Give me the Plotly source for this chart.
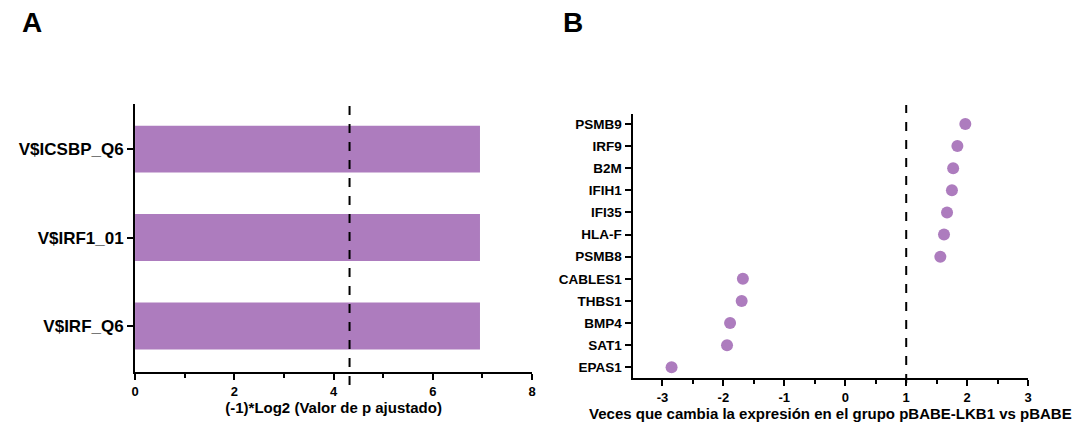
import plotly.graph_objects as go
import math

# Panel A data
motifs = ["V$IRF_Q6", "V$IRF1_01", "V$ICSBP_Q6"]
motif_scores = [6.95, 6.95, 6.95]
p_threshold = -math.log2(0.05)

# Panel B data
genes = ["EPAS1", "SAT1", "BMP4", "THBS1", "CABLES1", "PSMB8", "HLA-F",
         "IFI35", "IFIH1", "B2M", "IRF9", "PSMB9"]
fold_change = [-2.85, -1.94, -1.89, -1.70, -1.68, 1.56, 1.62,
               1.67, 1.75, 1.77, 1.84, 1.97]
fc_threshold = 1

xA_ticks = [0, 2, 4, 6, 8]
xB_ticks = [-3, -2, -1, 0, 1, 2, 3]
xB_ticktext = ["-3", "-2", "-1", "0", "1", "2", "3"]

purple = "#ad7cbe"
FONT = "Liberation Sans, Arial, sans-serif"

fig = go.Figure()
fig.add_trace(go.Bar(x=motif_scores, y=motifs, orientation="h",
                     marker=dict(color=purple, line=dict(width=0)),
                     xaxis="x", yaxis="y", showlegend=False))
fig.add_trace(go.Scatter(x=fold_change, y=genes, mode="markers",
                         marker=dict(color=purple, size=12, line=dict(width=0)),
                         xaxis="x2", yaxis="y2", showlegend=False))

axis_common = dict(showline=True, linecolor="black", linewidth=2,
                   ticks="outside", ticklen=6, tickwidth=2, tickcolor="black",
                   showgrid=False, zeroline=False)

fig.update_layout(
    width=1077, height=429,
    margin=dict(l=0, r=0, t=0, b=0),
    paper_bgcolor="white", plot_bgcolor="white",
    font=dict(family=FONT, color="black"),
    bargap=0.47,
    xaxis=dict(domain=[0.1226, 0.4940], range=[0, 8], tickvals=xA_ticks,
               anchor="y",
               minor=dict(ticks="outside", ticklen=4, tickwidth=2, dtick=1, tickcolor="black"),
               tickfont=dict(size=13, weight="bold"),
               title=dict(text="(-1)*Log2 (Valor de p ajustado)", standoff=4,
                          font=dict(size=15, weight="bold")),
               **axis_common),
    yaxis=dict(domain=[0.1329, 0.7576], range=[-0.52, 2.51], anchor="x",
               type="category", categoryorder="array", categoryarray=motifs,
               tickfont=dict(size=17, weight="bold"),
               **axis_common),
    xaxis2=dict(domain=[0.588, 0.958], range=[-3.49, 3.0], tickvals=xB_ticks,
                ticktext=xB_ticktext, anchor="y2",
                minor=dict(ticks="outside", ticklen=4, tickwidth=2, dtick=0.5, tick0=0,
                           tickcolor="black"),
                tickfont=dict(size=13, weight="bold"),
                title=dict(text="Veces que cambia la expresión en el grupo pBABE-LKB1 vs pBABE",
                           standoff=2, font=dict(size=15, weight="bold")),
                **axis_common),
    yaxis2=dict(domain=[0.118, 0.7343], range=[-0.5, 11.45], anchor="x2",
                type="category", categoryorder="array", categoryarray=genes,
                tickfont=dict(size=13.5, weight="bold"),
                **axis_common),
    shapes=[
        dict(type="line", xref="x", yref="paper", x0=p_threshold, x1=p_threshold,
             y0=0.1026, y1=0.767, line=dict(color="black", width=2, dash="dash")),
        dict(type="line", xref="x2", yref="paper", x0=fc_threshold, x1=fc_threshold,
             y0=0.107, y1=0.755, line=dict(color="black", width=2, dash="dash")),
    ],
    annotations=[
        dict(text="A", x=28 / 1077, y=1 - 22 / 429, xref="paper", yref="paper",
             showarrow=False, xanchor="center", yanchor="middle",
             font=dict(size=28, weight="bold", family=FONT)),
        dict(text="B", x=573 / 1077, y=1 - 22 / 429, xref="paper", yref="paper",
             showarrow=False, xanchor="center", yanchor="middle",
             font=dict(size=28, weight="bold", family=FONT)),
    ],
)

fig.write_html("out.html")
